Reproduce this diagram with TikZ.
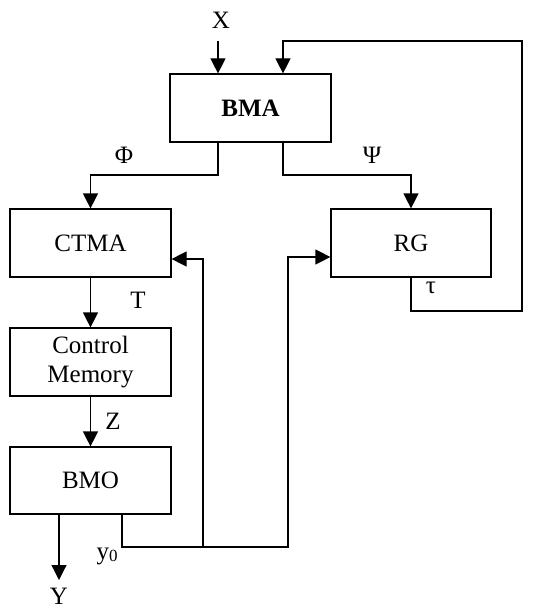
\documentclass[tikz,border=0pt]{standalone}
\usepackage{fontspec}
\setmainfont{Liberation Serif}
\usetikzlibrary{arrows.meta,calc}
\begin{document}
\begin{tikzpicture}[x=1pt,y=-1pt,
  every node/.style={font=\fontsize{25}{29}\selectfont},
  blk/.style={draw,line width=1.2pt,minimum width=161pt,minimum height=68pt,inner sep=0pt,align=center},
  lbl/.style={inner sep=0pt},
  conn/.style={line width=1.2pt},
  arr/.style={conn,-{Triangle[length=15pt,width=15pt]}}]
\useasboundingbox (0,0) rectangle (537,610);
% blocks
\node[blk] (bma) at (250.5,108) {\textbf{BMA}};
\node[blk] (ctma) at (90.5,243) {CTMA};
\node[blk,minimum width=160pt] (rg) at (411,243) {RG};
\node[blk] (cm) at (90.5,362) {Control\\Memory};
\node[blk,minimum height=67pt] (bmo) at (90.5,480.5) {BMO};
% labels
\node[lbl] (xl) at (221,20) {X};
\node[lbl] (phi) at (124,155) {Φ};
\node[lbl] (psi) at (372,155) {Ψ};
\node[lbl] (tau) at (431,288) {τ};
\node[lbl] (tl) at (138,300) {T};
\node[lbl] (zl) at (113,421) {Z};
\node[lbl] (yl) at (59,596) {Y};
\node[lbl] (y0) at (107,556) {y\raisebox{-0.25ex}{\fontsize{17}{17}\selectfont 0}};
% coordinates
\coordinate (xin) at (218,41);
\coordinate (fbtop) at (283,41);
\coordinate (fbr) at (522,311);
\coordinate (spl) at (0,175);
\coordinate (ybot) at (59,580);
\coordinate (y0a) at (122,547);
\coordinate (br) at (203,547);
\coordinate (rgin) at (288,257);
\coordinate (ctin) at (203,259);
% connectors
\draw[arr] (xin) -- (xin |- bma.north);
\draw[arr] (rg.south) |- (fbr) |- (fbtop) -- (fbtop |- bma.north);
\draw[arr] (xin |- bma.south) |- (spl -| ctma.north) -- (ctma.north);
\draw[arr] (fbtop |- bma.south) |- (spl -| rg.north) -- (rg.north);
\draw[arr] (ctma.south) -- (cm.north);
\draw[arr] (cm.south) -- (bmo.north);
\draw[arr] (ybot |- bmo.south) -- (ybot);
\draw[arr] (y0a |- bmo.south) -- (y0a) -| (rgin) -- (rgin -| rg.west);
\draw[arr] (br) -- (ctin) -- (ctin -| ctma.east);
\end{tikzpicture}
\end{document}
